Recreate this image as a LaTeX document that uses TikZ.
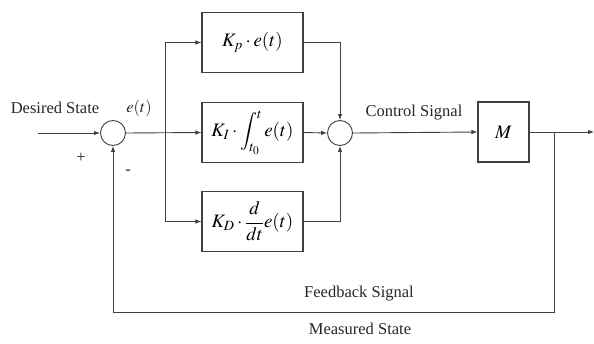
\documentclass[tikz,border=0pt]{standalone}
\usepackage{mathptmx}
\usepackage{fontspec}
\setmainfont{Liberation Serif}
\usetikzlibrary{arrows.meta, positioning, calc}
\tikzset{
    x=1pt, y=-1pt,
    font=\fontsize{16.5}{19}\selectfont,
    >={Latex[length=6pt, width=4.5pt]},
    % Shapes
    blk/.style={rectangle, draw=black!75, line width=1.1pt, font=\fontsize{19}{22}\selectfont,
                minimum width=101pt, minimum height=60pt, inner sep=1pt, align=center},
    sumj/.style={circle, draw=black!75, line width=0.9pt, minimum size=25pt, inner sep=0pt},
    % Flow & Labels
    flow/.style={->, line width=0.9pt, black!75},
    lbl/.style={inner sep=1pt, text=black!85}
}
\begin{document}
\begin{tikzpicture}

\useasboundingbox (0,0) rectangle (594,343);

\node[sumj] (sumE) at (113,133) {};
\node[sumj] (sumC) at (340,133) {};

\node[blk] (kp) at (252.5,42.5) {$K_{p}\cdot e(t)$};
\node[blk] (ki) at (252.5,132.5) {$K_{I}\cdot\displaystyle\int_{t_0}^{t} e(t)$};
\node[blk] (kd) at (252.5,221.5) {$K_{D}\cdot\displaystyle\frac{d}{dt}e(t)$};

\node[blk, minimum width=51pt] (plant) at (503.5,132) {$M$};

\coordinate (in) at (38,133);
\coordinate (branch) at (165,133);
\coordinate (tap) at (554,132);
\coordinate (out) at (594,132);
\coordinate (fb) at (113,312);

% labels
\node[lbl] (desired) at (55,108) {Desired State};
\node[lbl] (err) at (139,108) {$e(t)$};
\node[lbl] (ctrl) at (414,113) {Control Signal};
\node[lbl] (fbsig) at (359,294) {Feedback Signal};
\node[lbl] (meas) at (360,329) {Measured State};
\node[lbl] (plus) at (81,158) {+};
\node[lbl] (minus) at (128,172) {-};

% forward path
\draw[flow] (in) -- (sumE.west);
\draw[flow] (sumE.east) -- (ki.west);
\draw[flow] (branch) |- (kp.west);
\draw[flow] (branch) |- (kd.west);

\draw[flow] (kp.east) -| (sumC.north);
\draw[flow] (ki.east) -- (sumC.west);
\draw[flow] (kd.east) -| (sumC.south);

\draw[flow] (sumC.east) -- (plant.west);
\draw[flow] (plant.east) -- (out);

% feedback
\draw[flow] (tap) |- (fb) -- (sumE.south);

\end{tikzpicture}
\end{document}
